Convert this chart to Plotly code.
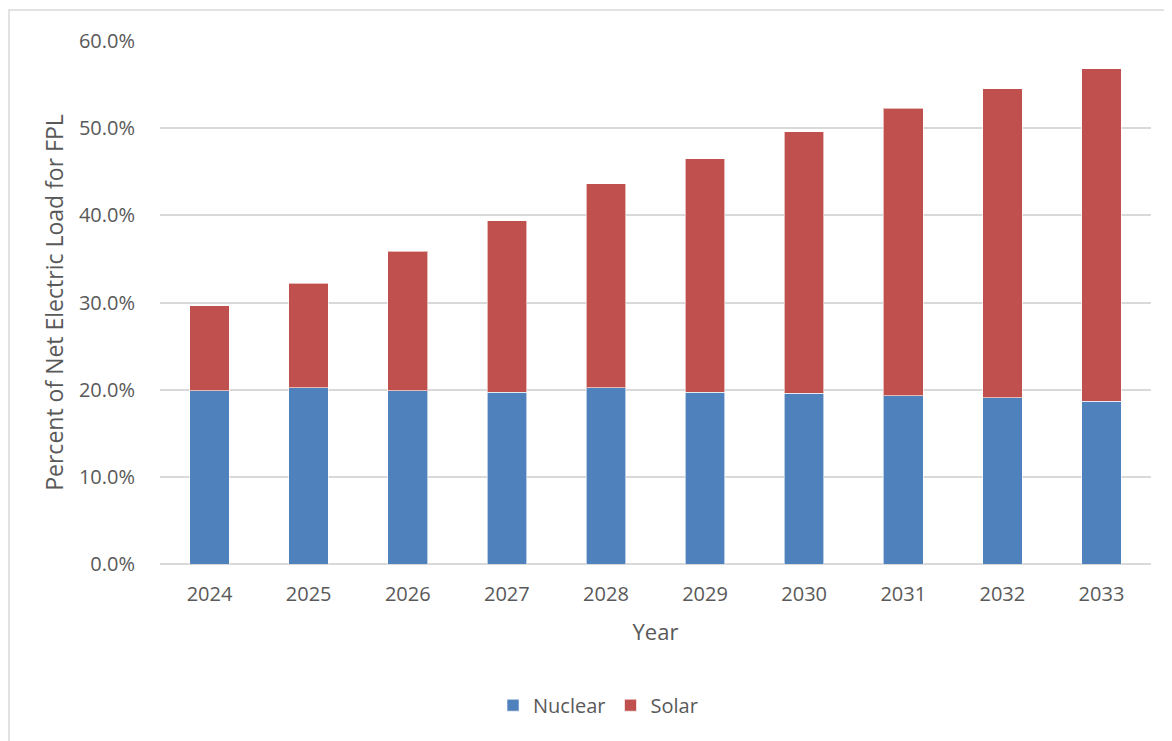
import plotly.graph_objects as go

years = ["2024", "2025", "2026", "2027", "2028", "2029", "2030", "2031", "2032", "2033"]
nuclear = [19.9, 20.2, 19.9, 19.7, 20.2, 19.7, 19.6, 19.3, 19.1, 18.7]
solar = [9.7, 12.0, 16.0, 19.7, 23.4, 26.8, 30.0, 33.0, 35.4, 38.1]
y_ticks = [0, 10, 20, 30, 40, 50, 60]
y_tick_text = ["0.0%", "10.0%", "20.0%", "30.0%", "40.0%", "50.0%", "60.0%"]

FONT = "Open Sans, Liberation Sans, sans-serif"
TXT = "#595959"
GRID = "#D9D9D9"

fig = go.Figure()
fig.add_trace(go.Bar(x=years, y=nuclear, name="Nuclear",
                     marker=dict(color="#4F81BD", line=dict(color="rgba(255,255,255,0.6)", width=1))))
fig.add_trace(go.Bar(x=years, y=solar, name="Solar",
                     marker=dict(color="#C0504D", line=dict(color="rgba(255,255,255,0.6)", width=1))))

fig.update_layout(
    barmode="stack",
    bargap=0.6,
    width=1172, height=741,
    margin=dict(l=152, r=29, t=33, b=185),
    paper_bgcolor="white", plot_bgcolor="white",
    font=dict(family=FONT, size=20, color=TXT),
    showlegend=True,
    legend=dict(orientation="h", x=0.442, xanchor="center", y=-0.27, yanchor="middle",
                font=dict(size=20, color=TXT), traceorder="normal", itemwidth=30),
    xaxis=dict(
        title=dict(text="Year", font=dict(size=22, color=TXT), standoff=18),
        tickfont=dict(size=20, color=TXT),
        ticks="outside", ticklen=12, tickcolor="rgba(0,0,0,0)",
        showline=False, showgrid=False,
    ),
    yaxis=dict(
        title=dict(text="Percent of Net Electric Load for FPL", font=dict(size=23, color=TXT), standoff=8),
        range=[0, 60],
        tickvals=y_ticks, ticktext=y_tick_text,
        tickfont=dict(size=20, color=TXT),
        ticks="outside", ticklen=20, tickcolor="rgba(0,0,0,0)",
        showgrid=True, gridcolor=GRID, gridwidth=1.5,
        zeroline=True, zerolinecolor=GRID, zerolinewidth=1.5,
        showline=False,
    ),
    shapes=[dict(type="rect", xref="paper", yref="paper",
                 x0=-0.1524, x1=1.05, y0=-0.5, y1=1.0593,
                 line=dict(color="#D9D9D9", width=1.5), fillcolor="rgba(0,0,0,0)", layer="below")],
)

fig.write_html("out.html")
